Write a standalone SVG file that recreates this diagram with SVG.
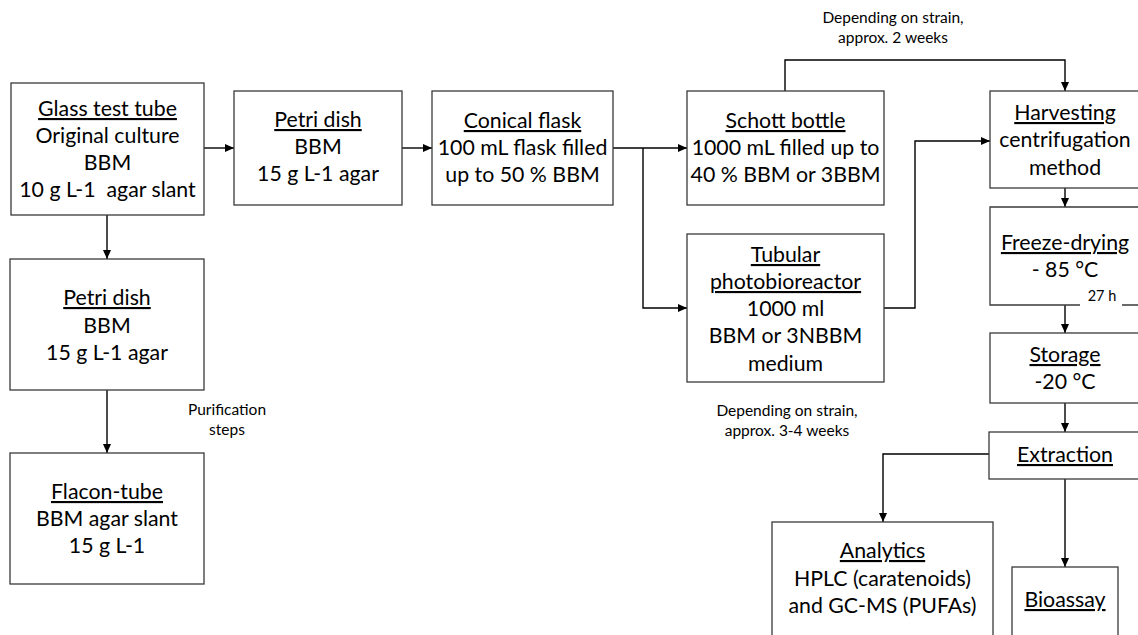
<svg xmlns="http://www.w3.org/2000/svg" width="1138" height="635" viewBox="0 0 1138 635">
<defs>
<marker id="ah" markerWidth="10" markerHeight="10" refX="9" refY="5" orient="auto" markerUnits="userSpaceOnUse">
<path d="M0,1 L9,5 L0,9 Z" fill="#000"/>
</marker>
<style>
.box{fill:#fff;stroke:#3a3a3a;stroke-width:1.3}
.edge{fill:none;stroke:#000;stroke-width:1.4;marker-end:url(#ah)}
.t{font-family:Lato,"Open Sans","Liberation Sans",sans-serif;font-size:21.3px;fill:#000;text-anchor:middle}
.u{text-decoration:underline}
.s{font-family:Lato,"Open Sans","Liberation Sans",sans-serif;font-size:15.5px;fill:#000;text-anchor:middle}
</style>
</defs>
<rect width="1138" height="635" fill="#fff"/>

<g id="connectors">
<path class="edge" d="M204 148 H234"/>
<path class="edge" d="M402 148 H432"/>
<path class="edge" d="M613 148 H687"/>
<path class="edge" d="M643 148 V308 H687"/>
<path class="edge" d="M785 91 V60 H1065 V91"/>
<path class="edge" d="M884 308 H915 V141 H990"/>
<path class="edge" d="M1065 188 V207"/>
<path class="edge" d="M1065 305 V333"/>
<path class="edge" d="M1065 403 V432"/>
<path class="edge" d="M989 454 H883 V522"/>
<path class="edge" d="M1065 479 V567"/>
<path class="edge" d="M107 215 V259"/>
<path class="edge" d="M107 390 V453"/>
</g>

<g id="glass">
<rect class="box" x="11" y="83" width="193" height="132"/>
<text class="t u" x="107.5" y="116">Glass test tube</text>
<text class="t" x="107.5" y="143">Original culture</text>
<text class="t" x="107.5" y="170">BBM</text>
<text class="t" x="107.5" y="197" xml:space="preserve">10 g L-1  agar slant</text>
</g>

<g id="petri1">
<rect class="box" x="234" y="91" width="168" height="114"/>
<text class="t u" x="318" y="127">Petri dish</text>
<text class="t" x="318" y="154">BBM</text>
<text class="t" x="318" y="181">15 g L-1 agar</text>
</g>

<g id="conical">
<rect class="box" x="432" y="91" width="181" height="114"/>
<text class="t u" x="522.5" y="128">Conical flask</text>
<text class="t" x="522.5" y="155">100 mL flask filled</text>
<text class="t" x="522.5" y="182">up to 50 % BBM</text>
</g>

<g id="schott">
<rect class="box" x="687" y="91" width="197" height="114"/>
<text class="t u" x="785.5" y="128">Schott bottle</text>
<text class="t" x="785.5" y="155">1000 mL filled up to</text>
<text class="t" x="785.5" y="182">40 % BBM or 3BBM</text>
</g>

<g id="tubular">
<rect class="box" x="687" y="234" width="197" height="148"/>
<text class="t u" x="785.5" y="262">Tubular</text>
<text class="t u" x="785.5" y="289">photobioreactor</text>
<text class="t" x="785.5" y="316">1000 ml</text>
<text class="t" x="785.5" y="343">BBM or 3NBBM</text>
<text class="t" x="785.5" y="371">medium</text>
</g>

<g id="harvesting">
<rect class="box" x="990" y="91" width="170" height="97"/>
<text class="t u" x="1065" y="120">Harvesting</text>
<text class="t" x="1065" y="147">centrifugation</text>
<text class="t" x="1065" y="175">method</text>
</g>

<g id="freeze">
<path d="M1160 207 H990 V305 H1080 M1122 305 H1160" fill="#fff" stroke="#3a3a3a" stroke-width="1.3"/>
<text class="t u" x="1065" y="250">Freeze-drying</text>
<text class="t" x="1065" y="277">- 85 °C</text>
<text class="s" x="1102" y="301" style="font-size:14.5px">27 h</text>
</g>

<g id="storage">
<rect class="box" x="990" y="333" width="170" height="70"/>
<text class="t u" x="1065" y="362">Storage</text>
<text class="t" x="1065" y="389">-20 °C</text>
</g>

<g id="extraction">
<rect class="box" x="989" y="432" width="170" height="47"/>
<text class="t u" x="1065" y="462">Extraction</text>
</g>

<g id="analytics">
<rect class="box" x="772" y="522" width="221" height="130"/>
<text class="t u" x="882.5" y="558">Analytics</text>
<text class="t" x="882.5" y="586">HPLC (caratenoids)</text>
<text class="t" x="882.5" y="613">and GC-MS (PUFAs)</text>
</g>

<g id="bioassay">
<rect class="box" x="1012" y="567" width="106" height="90"/>
<text class="t u" x="1065" y="607">Bioassay</text>
</g>

<g id="petri2">
<rect class="box" x="10" y="259" width="194" height="131"/>
<text class="t u" x="107" y="305">Petri dish</text>
<text class="t" x="107" y="333">BBM</text>
<text class="t" x="107" y="360">15 g L-1 agar</text>
</g>

<g id="flacon">
<rect class="box" x="10" y="453" width="194" height="131"/>
<text class="t u" x="107" y="499">Flacon-tube</text>
<text class="t" x="107" y="526">BBM agar slant</text>
<text class="t" x="107" y="553">15 g L-1</text>
</g>

<g id="labels">
<text class="s" x="893" y="23">Depending on strain,</text>
<text class="s" x="893" y="43">approx. 2 weeks</text>
<text class="s" x="787" y="416">Depending on strain,</text>
<text class="s" x="787" y="436">approx. 3-4 weeks</text>
<text class="s" x="227" y="415">Purification</text>
<text class="s" x="227" y="435">steps</text>
</g>
</svg>
